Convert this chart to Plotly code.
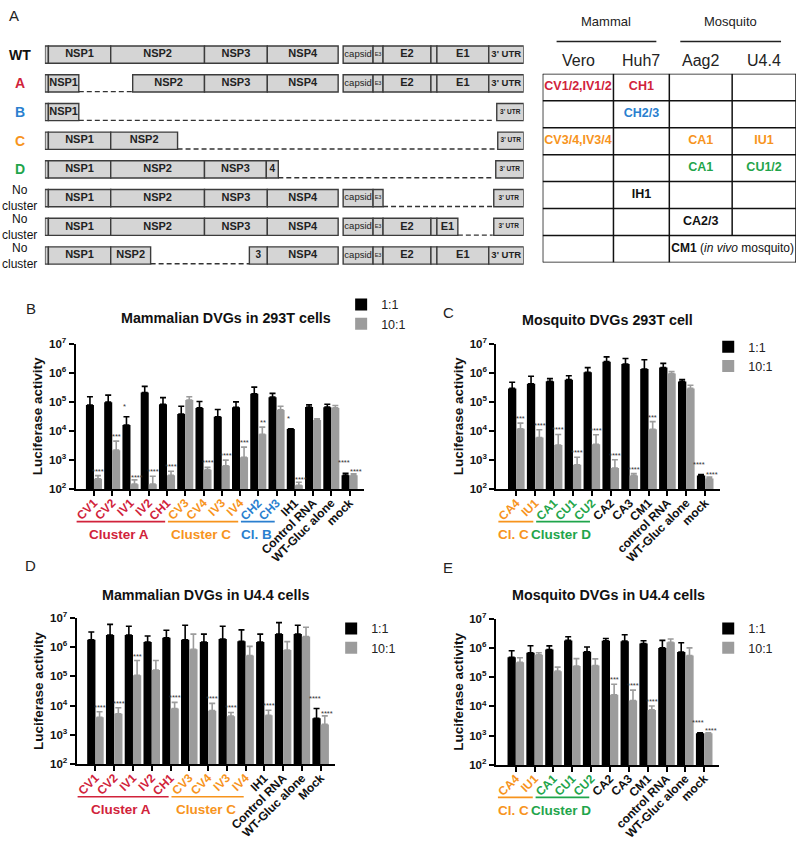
import math
import plotly.graph_objects as go

W, H = 797, 841
FONT = "Liberation Sans, Arial, Helvetica, sans-serif"
RED, ORANGE, BLUE, GREEN, INK = "#d1233b", "#f7941d", "#2a7fcf", "#1fa54b", "#111111"
C_BLACK, C_GRAY = "#000000", "#9c9c9c"

# ---------------- Panel A: genome diagrams (relative genome position units) ----------------
row_labels = ["WT", "A", "B", "C", "D", "No<br>cluster", "No<br>cluster", "No<br>cluster"]
row_label_colors = [INK, RED, BLUE, ORANGE, GREEN, INK, INK, INK]

seg_wt = [("", 0, 3.5), ("NSP1", 3.5, 66), ("NSP2", 66, 160), ("NSP3", 160, 223), ("NSP4", 223, 294),
          ("capsid", 299, 329), ("E3", 329, 339), ("E2", 339, 387), ("", 387, 393), ("E1", 393, 445),
          ("3' UTR", 445, 480)]
seg_a = [("", 0, 3.5), ("NSP1", 3.5, 34), ("NSP2", 88, 160), ("NSP3", 160, 223), ("NSP4", 223, 294),
         ("capsid", 299, 329), ("E3", 329, 339), ("E2", 339, 387), ("", 387, 393), ("E1", 393, 445),
         ("3' UTR", 445, 480)]
seg_b = [("", 0, 3.5), ("NSP1", 3.5, 34), ("3' UTR", 453, 480)]
seg_c = [("", 0, 3.5), ("NSP1", 3.5, 66), ("NSP2", 66, 133), ("3' UTR", 454, 480)]
seg_d = [("", 0, 3.5), ("NSP1", 3.5, 66), ("NSP2", 66, 160), ("NSP3", 160, 222), ("4", 222, 234),
         ("3' UTR", 452, 480)]
seg_n1 = [("", 0, 3.5), ("NSP1", 3.5, 66), ("NSP2", 66, 160), ("NSP3", 160, 223), ("NSP4", 223, 294),
          ("capsid", 299, 329), ("E3", 329, 339), ("3' UTR", 450, 480)]
seg_n2 = [("", 0, 3.5), ("NSP1", 3.5, 66), ("NSP2", 66, 160), ("NSP3", 160, 223), ("NSP4", 223, 294),
          ("capsid", 299, 329), ("E3", 329, 339), ("E2", 339, 387), ("", 387, 393), ("E1", 393, 414),
          ("3' UTR", 450, 480)]
seg_n3 = [("", 0, 3.5), ("NSP1", 3.5, 66), ("NSP2", 66, 106), ("3", 205, 223), ("NSP4", 223, 294),
          ("capsid", 299, 329), ("E3", 329, 339), ("E2", 339, 387), ("", 387, 393), ("E1", 393, 445),
          ("3' UTR", 445, 480)]
genome_rows = [seg_wt, seg_a, seg_b, seg_c, seg_d, seg_n1, seg_n2, seg_n3]
deletions = [[], [(34, 88)], [(34, 450)], [(133, 452)], [(234, 450)], [(339, 449)], [(414, 449)], [(106, 205)]]

# ---------------- Panel A: table ----------------
table_group_headers = ["Mammal", "Mosquito"]
table_col_headers = ["Vero", "Huh7", "Aag2", "U4.4"]
cell_rows = [0, 0, 1, 2, 2, 2, 3, 3, 4, 5, 6]
cell_col_first = [0, 1, 1, 0, 2, 3, 2, 3, 1, 2, 2]
cell_col_last = [0, 1, 1, 0, 2, 3, 2, 3, 1, 2, 3]
cell_texts = ["<b>CV1/2,IV1/2</b>", "<b>CH1</b>", "<b>CH2/3</b>", "<b>CV3/4,IV3/4</b>", "<b>CA1</b>",
              "<b>IU1</b>", "<b>CA1</b>", "<b>CU1/2</b>", "<b>IH1</b>", "<b>CA2/3</b>",
              "<b>CM1</b> (<i>in vivo</i> mosquito)"]
cell_colors = [RED, RED, BLUE, ORANGE, ORANGE, ORANGE, GREEN, GREEN, INK, INK, INK]

# ---------------- Panel B ----------------
b_cats = ["CV1", "CV2", "IV1", "IV2", "CH1", "CV3", "CV4", "IV3", "IV4", "CH2", "CH3", "IH1",
          "Control RNA", "WT-Gluc alone", "mock"]
b_colors = [RED] * 5 + [ORANGE] * 4 + [BLUE] * 2 + [INK] * 4
b_11 = [7.8e4, 9.8e4, 1.6e4, 2.1e5, 8.3e4, 3.8e4, 6.2e4, 3.1e4, 6.5e4, 1.9e5, 1.45e5, 1.17e4, 6.7e4, 6.6e4, 3.0e2]
b_11_top = [1.5e5, 1.7e5, 3.1e4, 3.4e5, 1.4e5, 7.1e4, 1.03e5, 5.5e4, 1.0e5, 3.2e5, 1.95e5, 1.2e4, 7.9e4, 8.3e4, 3.5e2]
b_101 = [2.3e2, 2.2e3, 1.5e2, 1.5e2, 3.0e2, 1.15e5, 4.7e2, 6.4e2, 1.26e3, 7.7e3, 5.3e4, 1.36e2, 2.4e4, 6.2e4, 3.05e2]
b_101_top = [2.95e2, 4.5e3, 2.1e2, 2.8e2, 4.15e2, 1.5e5, 5.65e2, 1.0e3, 2.8e3, 1.36e4, 7.1e4, 1.75e2, 2.6e4, 7.5e4, 3.4e2]
b_stars_11 = ["", "", "*", "", "", "", "", "", "", "", "", "*", "", "", "****"]
b_stars_101 = ["****", "***", "****", "****", "****", "", "****", "****", "***", "**", "", "****", "", "", "****"]
b_clusters = [("Cluster A", RED, 0, 4), ("Cluster C", ORANGE, 5, 8), ("Cl. B", BLUE, 9, 10)]

# ---------------- Panel C ----------------
c_cats = ["CA4", "IU1", "CA1", "CU1", "CU2", "CA2", "CA3", "CM1", "control RNA", "WT-Gluc alone", "mock"]
c_colors = [ORANGE] * 2 + [GREEN] * 3 + [INK] * 6
c_11 = [2.9e5, 4.2e5, 5.1e5, 5.8e5, 1.03e6, 2.4e6, 2.0e6, 1.35e6, 1.5e6, 5.0e5, 2.95e2]
c_11_top = [4.7e5, 7.6e5, 6.3e5, 7.9e5, 1.5e6, 3.5e6, 3.1e6, 2.8e6, 2.1e6, 5.8e5, 3.2e2]
c_101 = [1.2e4, 6.0e3, 3.3e3, 6.9e2, 3.5e3, 5.4e2, 2.96e2, 1.15e4, 9.4e5, 2.9e5, 2.35e2]
c_101_top = [1.86e4, 1.1e4, 7.6e3, 1.26e3, 7.4e3, 1.03e3, 3.45e2, 2.1e4, 1.1e6, 3.7e5, 2.65e2]
c_stars_11 = [""] * 10 + ["****"]
c_stars_101 = ["***", "****", "****", "****", "****", "****", "****", "***", "", "", "****"]
c_clusters = [("Cl. C", ORANGE, 0, 1), ("Cluster D", GREEN, 2, 4)]

# ---------------- Panel D ----------------
d_cats = ["CV1", "CV2", "IV1", "IV2", "CH1", "CV3", "CV4", "IV3", "IV4", "IH1", "Control RNA",
          "WT-Gluc alone", "Mock"]
d_colors = [RED] * 5 + [ORANGE] * 4 + [INK] * 4
d_11 = [1.8e6, 2.6e6, 2.6e6, 1.5e6, 2.1e6, 1.8e6, 1.5e6, 1.9e6, 1.6e6, 1.5e6, 2.8e6, 2.8e6, 3.7e3]
d_11_top = [3.3e6, 6.0e6, 5.2e6, 2.4e6, 3.8e6, 5.6e6, 2.8e6, 5.2e6, 3.9e6, 2.8e6, 6.9e6, 5.6e6, 8.0e3]
d_101 = [4.0e3, 5.3e3, 1.1e5, 1.65e5, 8.0e3, 8.5e5, 6.8e3, 4.4e3, 5.2e5, 4.7e3, 8.0e5, 2.3e6, 2.3e3]
d_101_top = [6.2e3, 8.5e3, 3.5e5, 3.5e5, 1.3e4, 2.8e6, 1.2e4, 5.9e3, 1.07e6, 7.0e3, 1.55e6, 4.8e6, 4.5e3]
d_stars_11 = [""] * 12 + ["****"]
d_stars_101 = ["****", "****", "***", "", "****", "", "****", "****", "", "****", "", "", "****"]
d_clusters = [("Cluster A", RED, 0, 4), ("Cluster C", ORANGE, 5, 8)]

# ---------------- Panel E ----------------
e_cats = ["CA4", "IU1", "CA1", "CU1", "CU2", "CA2", "CA3", "CM1", "control RNA", "WT-Gluc alone", "mock"]
e_colors = [ORANGE] * 2 + [GREEN] * 3 + [INK] * 6
e_11 = [4.8e5, 6.8e5, 8.8e5, 1.8e6, 7.4e5, 1.75e6, 1.7e6, 1.4e6, 1.0e6, 7.2e5, 1.2e3]
e_11_top = [8.0e5, 1.18e6, 1.17e6, 2.4e6, 1.07e6, 2.1e6, 2.8e6, 1.75e6, 1.8e6, 1.5e6, 1.25e3]
e_101 = [3.2e5, 5.8e5, 1.6e5, 2.4e5, 2.5e5, 2.5e4, 1.6e4, 7.6e3, 1.55e6, 5.5e5, 1.2e3]
e_101_top = [4.6e5, 6.8e5, 2.2e5, 4.3e5, 4.2e5, 5.7e4, 3.6e4, 1.03e4, 2.0e6, 1.0e6, 1.25e3]
e_stars_11 = [""] * 10 + ["****"]
e_stars_101 = ["", "", "", "", "", "***", "****", "****", "", "", "****"]
e_clusters = [("Cl. C", ORANGE, 0, 1), ("Cluster D", GREEN, 2, 4)]

series_names = ["1:1", "10:1"]
y_tick_vals = [1e2, 1e3, 1e4, 1e5, 1e6, 1e7]


# ---------------- helpers ----------------
def hx(a, b):
    return [a / W, b / W]


def vy(top, bottom):
    return [1 - bottom / H, 1 - top / H]


def py(p):
    return 1 - p / H


fig = go.Figure()
annotations = []
shapes = []
layout = {}

# ---- genome diagram traces
bx, bbase, by, tx, ty, tt, tsize = [], [], [], [], [], [], []
for r, segs in enumerate(genome_rows):
    for lab, s, e in segs:
        bx.append(e - s)
        bbase.append(s)
        by.append(r)
        if lab:
            tx.append((s + e) / 2)
            ty.append(r)
            w = e - s
            if lab == "3' UTR":
                tt.append("<b>3' UTR</b>")
                tsize.append(9.5 if w > 30 else 6.5)
            elif lab == "capsid":
                tt.append("capsid")
                tsize.append(9.5)
            elif lab == "E3":
                tt.append("E3")
                tsize.append(5.5)
            else:
                tt.append(f"<b>{lab}</b>")
                tsize.append(11 if len(lab) > 1 else 10)

fig.add_trace(go.Bar(x=bx, base=bbase, y=by, orientation="h", width=0.6,
                     marker=dict(color="#d5d5d5", line=dict(color="#3c3c3c", width=1.4)),
                     xaxis="x5", yaxis="y5", showlegend=False, hoverinfo="skip"))
fig.add_trace(go.Scatter(x=tx, y=ty, mode="text", text=tt,
                         textfont=dict(size=tsize, color="#222222", family=FONT),
                         xaxis="x5", yaxis="y5", showlegend=False, hoverinfo="skip"))
dx_, dy_ = [], []
for r, dels in enumerate(deletions):
    for s, e in dels:
        dx_ += [s, e, None]
        dy_ += [r + 0.29, r + 0.29, None]
fig.add_trace(go.Scatter(x=dx_, y=dy_, mode="lines", line=dict(color="#333333", width=1.4, dash="5px,3px"),
                         xaxis="x5", yaxis="y5", showlegend=False, hoverinfo="skip"))
layout["xaxis5"] = dict(domain=hx(43, 523), range=[0, 480], visible=False, anchor="y5", fixedrange=True)
layout["yaxis5"] = dict(domain=vy(32.9, 266.6), range=[7.5, -0.5], visible=False, anchor="x5", fixedrange=True)

for r, (lab, col) in enumerate(zip(row_labels, row_label_colors)):
    multi = "<br>" in lab
    annotations.append(dict(x=18 / W, y=r, xref="paper", yref="y5", text=lab, showarrow=False,
                            xanchor="center", yanchor="middle",
                            font=dict(size=12 if multi else 14, color=col,
                                      weight="normal" if multi else "bold")))

# ---- table
col_edges = [0, 71, 127, 190, 254]
layout["xaxis6"] = dict(domain=hx(542, 796), range=[0, 254], visible=False, anchor="y6", fixedrange=True)
layout["yaxis6"] = dict(domain=vy(67, 259), range=[7, 0], visible=False, anchor="x6", fixedrange=True)
n_trows = 7
for k in range(n_trows + 1):
    shapes.append(dict(type="line", xref="x6", yref="y6", x0=0, x1=col_edges[-1], y0=k, y1=k,
                       line=dict(color="#111", width=1.5)))
for j, ce in enumerate(col_edges):
    spanned = [cell_rows[i] for i in range(len(cell_rows)) if cell_col_first[i] < j <= cell_col_last[i]]
    yend = min(spanned) if spanned else n_trows
    shapes.append(dict(type="line", xref="x6", yref="y6", x0=ce, x1=ce, y0=0, y1=yend,
                       line=dict(color="#111", width=1.5)))
cx = [(col_edges[a] + col_edges[b + 1]) / 2 for a, b in zip(cell_col_first, cell_col_last)]
cy = [r + 0.5 for r in cell_rows]
fig.add_trace(go.Scatter(x=cx, y=cy, mode="text", text=cell_texts,
                         textfont=dict(size=[12.5] * 10 + [12], color=cell_colors, family=FONT),
                         xaxis="x6", yaxis="y6", showlegend=False, hoverinfo="skip"))
for j, h in enumerate(table_col_headers):
    annotations.append(dict(x=(col_edges[j] + col_edges[j + 1]) / 2, y=py(53), xref="x6", yref="paper",
                            text=h, showarrow=False, xanchor="center", yanchor="middle",
                            font=dict(size=16, color="#222")))
grp_lines = [(14, 114), (138, 239)]
for h, (a, b) in zip(table_group_headers, grp_lines):
    shapes.append(dict(type="line", xref="x6", yref="paper", x0=a, x1=b, y0=py(34), y1=py(34),
                       line=dict(color="#222", width=1.5)))
    annotations.append(dict(x=(a + b) / 2, y=py(14), xref="x6", yref="paper", text=h, showarrow=False,
                            xanchor="center", yanchor="middle", font=dict(size=13, color="#222")))


# ---- bar panels
def bar_panel(n, cats, colors, v1, t1, v2, t2, s1, s2, clusters, xdom, ydom, legend_id, leg_xy, title, title_xy,
              letter, letter_xy):
    xa = "x" if n == 1 else f"x{n}"
    ya = "y" if n == 1 else f"y{n}"
    for vals, tops, col, name in ((v1, t1, C_BLACK, series_names[0]), (v2, t2, C_GRAY, series_names[1])):
        fig.add_trace(go.Bar(
            x=cats, y=vals, name=name, marker=dict(color=col, line=dict(width=0)),
            error_y=dict(type="data", symmetric=False, array=[t - v for t, v in zip(tops, vals)],
                         arrayminus=[0] * len(vals), color=col, thickness=1.6, width=3),
            xaxis=xa, yaxis=ya, legend=legend_id, hoverinfo="skip"))
    for i, c in enumerate(cats):
        both = bool(s1[i]) and bool(s2[i])
        if s1[i]:
            annotations.append(dict(x=c, y=math.log10(t1[i]), xref=xa, yref=ya, text=s1[i], showarrow=False,
                                    xanchor="center", yanchor="bottom", xshift=-6 if both else -4.3,
                                    yshift=4 if both else -2, font=dict(size=7.5, color="#333")))
        if s2[i]:
            annotations.append(dict(x=c, y=math.log10(t2[i]), xref=xa, yref=ya, text=s2[i], showarrow=False,
                                    xanchor="center", yanchor="bottom", xshift=6.5 if both else 4.3,
                                    yshift=-4 if both else -2, font=dict(size=7.5, color="#333")))
    ticktext = [f'<span style="color:{c}">{t}</span>' for t, c in zip(cats, colors)]
    layout["xaxis" if n == 1 else f"xaxis{n}"] = dict(
        domain=hx(*xdom), anchor=ya, type="category", categoryorder="array", categoryarray=cats,
        tickmode="array", tickvals=cats, ticktext=ticktext, tickangle=-45, ticklabelstandoff=-5,
        showline=True, linecolor="black", linewidth=2, ticks="outside", ticklen=5, tickwidth=2,
        tickcolor="black", tickfont=dict(size=12, weight="bold", family=FONT, color=INK),
        showgrid=False, zeroline=False, fixedrange=True)
    layout["yaxis" if n == 1 else f"yaxis{n}"] = dict(
        domain=vy(*ydom), anchor=xa, type="log", range=[2, 7], tickmode="array", tickvals=y_tick_vals,
        ticktext=[f"10<sup>{int(round(math.log10(v)))}</sup>" for v in y_tick_vals],
        showline=True, linecolor="black", linewidth=2.2, ticks="outside", ticklen=5, tickwidth=2,
        tickcolor="black", tickfont=dict(size=11.5, weight="bold", family=FONT, color=INK),
        showgrid=False, zeroline=False, fixedrange=True,
        title=dict(text="Luciferase activity", font=dict(size=13.5, weight="bold", color=INK), standoff=3))
    layout[legend_id] = dict(x=leg_xy[0] / W, y=py(leg_xy[1]), xanchor="left", yanchor="top",
                             font=dict(size=12.5, color="#222"), bgcolor="rgba(0,0,0,0)",
                             tracegroupgap=0, itemwidth=30, traceorder="normal")
    ybase = ydom[1]
    for name, col, first, last in clusters:
        x0, x1 = first - 0.95, last - 0.1
        shapes.append(dict(type="line", xref=xa, yref="paper", x0=x0, x1=x1, y0=py(ybase + 33),
                           y1=py(ybase + 33), line=dict(color=col, width=1.6)))
        annotations.append(dict(x=(x0 + x1) / 2 - 0.1, y=py(ybase + 46), xref=xa, yref="paper", text=name,
                                showarrow=False, xanchor="center", yanchor="middle",
                                font=dict(size=13.5, color=col, weight="bold")))
    annotations.append(dict(x=title_xy[0] / W, y=py(title_xy[1]), xref="paper", yref="paper", text=title,
                            showarrow=False, xanchor="center", yanchor="middle",
                            font=dict(size=14.3, color=INK, weight="bold")))
    annotations.append(dict(x=letter_xy[0] / W, y=py(letter_xy[1]), xref="paper", yref="paper", text=letter,
                            showarrow=False, xanchor="center", yanchor="middle",
                            font=dict(size=15, color="#222")))


bar_panel(1, b_cats, b_colors, b_11, b_11_top, b_101, b_101_top, b_stars_11, b_stars_101, b_clusters,
          (74, 363), (341.7, 490), "legend", (340, 287), "Mammalian DVGs in 293T cells", (225, 316), "B", (29, 306))
bar_panel(2, c_cats, c_colors, c_11, c_11_top, c_101, c_101_top, c_stars_11, c_stars_101, c_clusters,
          (495.7, 719.5), (341.7, 490), "legend2", (708, 330), "Mosquito DVGs 293T cell", (607, 318), "C", (448, 310))
bar_panel(3, d_cats, d_colors, d_11, d_11_top, d_101, d_101_top, d_stars_11, d_stars_101, d_clusters,
          (75, 334), (621, 770), "legend3", (330, 617), "Mammalian DVGs in U4.4 cells", (204, 598), "D", (29, 568))
bar_panel(4, e_cats, e_colors, e_11, e_11_top, e_101, e_101_top, e_stars_11, e_stars_101, e_clusters,
          (495.2, 718.5), (621.7, 770.7), "legend4", (708, 617), "Mosquito DVGs in U4.4 cells", (608, 598), "E", (447, 570))

annotations.append(dict(x=12 / W, y=py(8), xref="paper", yref="paper", text="A", showarrow=False,
                        xanchor="center", yanchor="middle", font=dict(size=15, color="#222")))

fig.update_layout(
    width=W, height=H, margin=dict(l=0, r=0, t=0, b=0), autosize=False,
    paper_bgcolor="white", plot_bgcolor="white",
    font=dict(family=FONT, color=INK),
    barmode="group", bargap=0.12, bargroupgap=0,
    annotations=annotations, shapes=shapes, **layout)

fig.write_html("out.html", config={"displayModeBar": False, "staticPlot": True},
               post_script="document.body.style.margin='0px';document.body.style.overflow='hidden';")
